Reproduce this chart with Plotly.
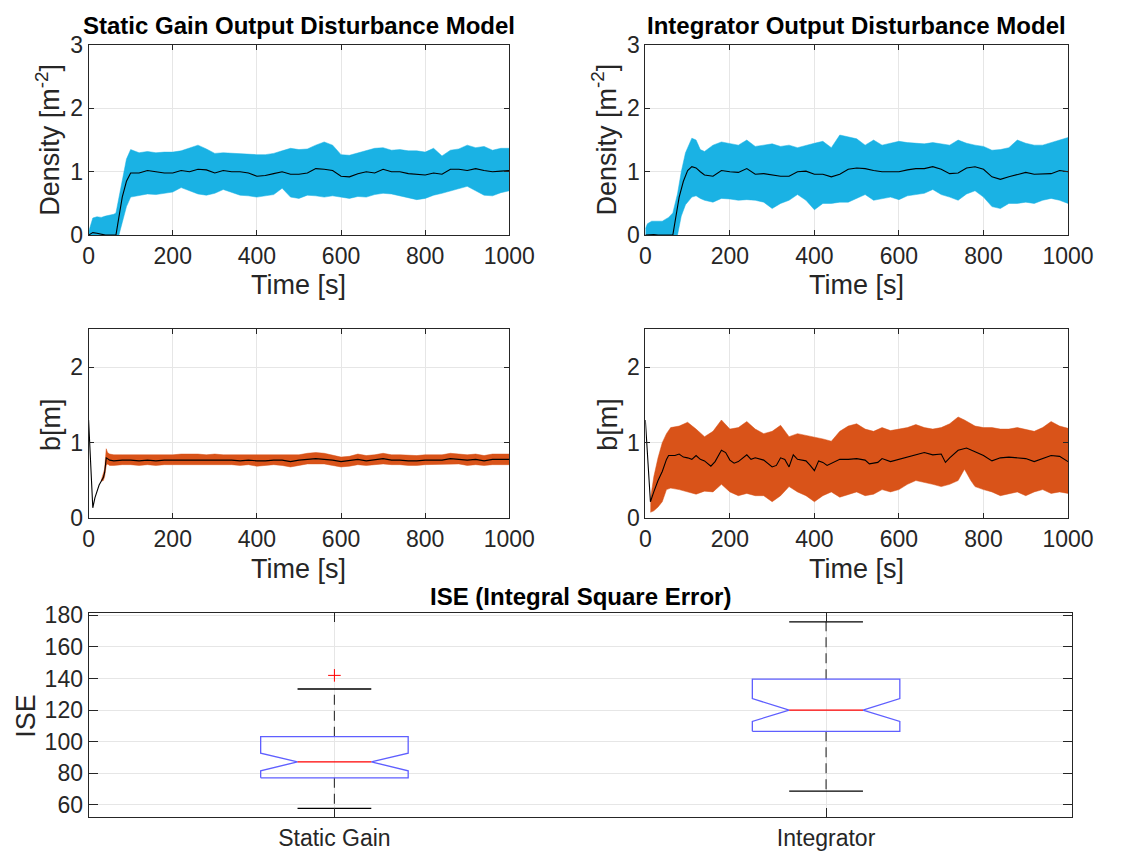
import plotly.graph_objects as go

# ---------------- density, static gain output disturbance model ----------------
sg_dens_band_t = [0, 5, 10, 20, 30, 40, 50, 60, 65, 72, 80, 90, 100,
                  120, 140, 160, 180, 200, 220, 240, 260, 280, 300, 320, 340, 360, 380, 400,
                  420, 440, 460, 480, 500, 520, 540, 560, 580, 600, 620, 640, 660, 680, 700,
                  720, 740, 760, 780, 800, 820, 840, 860, 880, 900, 920, 940, 960, 980, 1000]
sg_dens_hi = [0.05, 0.15, 0.27, 0.29, 0.28, 0.30, 0.31, 0.33, 0.35, 0.60, 0.90, 1.20, 1.35,
              1.30, 1.32, 1.30, 1.31, 1.31, 1.33, 1.37, 1.42, 1.36, 1.29, 1.30, 1.29, 1.28, 1.28, 1.27,
              1.27, 1.29, 1.33, 1.37, 1.35, 1.36, 1.42, 1.47, 1.42, 1.27, 1.26, 1.30, 1.33, 1.37, 1.38,
              1.34, 1.35, 1.33, 1.33, 1.31, 1.37, 1.25, 1.34, 1.36, 1.42, 1.38, 1.40, 1.34, 1.37, 1.37]
sg_dens_lo = [0.0, 0.0, 0.0, 0.0, 0.0, 0.0, 0.0, 0.0, 0.0, 0.0, 0.20, 0.45, 0.60,
              0.62, 0.65, 0.64, 0.66, 0.68, 0.75, 0.70, 0.65, 0.63, 0.66, 0.72, 0.68, 0.63, 0.62, 0.60,
              0.62, 0.64, 0.74, 0.60, 0.58, 0.63, 0.62, 0.60, 0.62, 0.60, 0.58, 0.61, 0.60, 0.64, 0.66,
              0.65, 0.62, 0.60, 0.56, 0.58, 0.63, 0.66, 0.70, 0.74, 0.77, 0.70, 0.63, 0.62, 0.67, 0.70]
sg_dens_mean_t = [0, 10, 20, 30, 40, 50, 60, 65, 70, 80, 90, 100,
                  120, 140, 160, 180, 200, 220, 240, 260, 280, 300, 320, 340, 360, 380, 400,
                  420, 440, 460, 480, 500, 520, 540, 560, 580, 600, 620, 640, 660, 680, 700,
                  720, 740, 760, 780, 800, 820, 840, 860, 880, 900, 920, 940, 960, 980, 1000]
sg_dens_mean = [0.0, 0.04, 0.03, 0.01, 0.0, 0.0, 0.0, 0.0, 0.20, 0.60, 0.85, 0.98,
                0.98, 1.02, 1.00, 0.98, 0.98, 1.02, 1.00, 1.04, 1.03, 0.98, 1.02, 1.00, 1.00, 0.98, 0.93,
                0.94, 0.97, 1.00, 0.96, 0.96, 0.98, 1.05, 1.04, 1.02, 0.93, 0.92, 0.97, 1.00, 0.98, 1.04,
                1.00, 1.00, 0.97, 0.96, 0.95, 0.98, 0.96, 1.04, 1.04, 1.02, 1.05, 1.02, 1.00, 1.01, 1.02]

# ---------------- density, integrator output disturbance model ----------------
int_dens_band_t = [0, 5, 15, 40, 55, 65, 76, 85, 95, 110, 120, 130,
                   140, 160, 180, 200, 220, 240, 260, 280, 300, 320, 340, 360, 380, 400,
                   420, 440, 460, 480, 500, 520, 540, 560, 580, 600, 620, 640, 660, 680, 700,
                   720, 740, 760, 780, 800, 820, 840, 860, 880, 900, 920, 940, 960, 980, 1000]
int_dens_hi = [0.10, 0.18, 0.22, 0.22, 0.28, 0.35, 0.65, 1.00, 1.30, 1.53, 1.50, 1.35,
               1.32, 1.42, 1.47, 1.45, 1.42, 1.50, 1.40, 1.42, 1.44, 1.40, 1.42, 1.38, 1.42, 1.45,
               1.48, 1.38, 1.58, 1.55, 1.52, 1.42, 1.50, 1.42, 1.45, 1.48, 1.46, 1.45, 1.44, 1.46, 1.44,
               1.42, 1.50, 1.45, 1.42, 1.40, 1.34, 1.35, 1.38, 1.50, 1.45, 1.42, 1.42, 1.46, 1.50, 1.54]
int_dens_lo = [0.0, 0.0, 0.0, 0.0, 0.0, 0.0, 0.0, 0.30, 0.48, 0.60, 0.62, 0.58,
               0.55, 0.52, 0.58, 0.57, 0.55, 0.56, 0.55, 0.52, 0.42, 0.50, 0.55, 0.64, 0.55, 0.40,
               0.50, 0.50, 0.52, 0.52, 0.58, 0.64, 0.55, 0.58, 0.60, 0.56, 0.62, 0.64, 0.66, 0.72, 0.64,
               0.60, 0.55, 0.65, 0.70, 0.60, 0.45, 0.42, 0.50, 0.50, 0.52, 0.50, 0.55, 0.58, 0.55, 0.50]
int_dens_mean_t = [0, 20, 30, 60, 65, 70, 80, 90, 100, 110, 120, 130,
                   140, 160, 180, 200, 220, 240, 260, 280, 300, 320, 340, 360, 380, 400,
                   420, 440, 460, 480, 500, 520, 540, 560, 580, 600, 620, 640, 660, 680, 700,
                   720, 740, 760, 780, 800, 820, 840, 860, 880, 900, 920, 940, 960, 980, 1000]
int_dens_mean = [0.0, 0.01, 0.0, 0.0, 0.0, 0.20, 0.60, 0.85, 1.02, 1.08, 1.06, 1.00,
                 0.95, 0.93, 1.02, 1.00, 0.99, 1.05, 0.96, 0.97, 0.95, 0.93, 0.93, 1.00, 1.01, 0.96,
                 0.96, 0.92, 0.96, 1.04, 1.06, 1.05, 1.02, 1.00, 1.00, 1.00, 1.03, 1.05, 1.05, 1.08, 1.04,
                 0.97, 0.98, 1.06, 1.08, 1.04, 0.92, 0.88, 0.92, 0.96, 0.99, 0.96, 0.97, 0.97, 1.02, 1.00]

# ---------------- b, static gain ----------------
sg_b_mean_t = [0, 10, 15, 20, 25, 30, 35, 38, 42, 45, 50, 60, 80,
               100, 120, 140, 160, 180, 200, 220, 240, 260, 280, 300, 320, 340, 360, 380, 400,
               420, 440, 460, 480, 500, 520, 540, 560, 580, 600, 620, 640, 660, 680, 700,
               720, 740, 760, 780, 800, 820, 840, 860, 880, 900, 920, 940, 960, 980, 1000]
sg_b_mean = [1.30, 0.14, 0.27, 0.37, 0.44, 0.49, 0.54, 0.60, 0.80, 0.79, 0.77, 0.76, 0.77,
             0.77, 0.76, 0.77, 0.76, 0.77, 0.77, 0.78, 0.77, 0.78, 0.77, 0.78, 0.77, 0.77, 0.76, 0.77, 0.76,
             0.76, 0.77, 0.77, 0.75, 0.77, 0.78, 0.79, 0.78, 0.77, 0.75, 0.76, 0.78, 0.76, 0.77, 0.79,
             0.77, 0.77, 0.76, 0.76, 0.77, 0.77, 0.77, 0.79, 0.78, 0.77, 0.78, 0.76, 0.78, 0.78, 0.78]
sg_b_band_t = [30, 35, 38, 42, 45, 50, 60, 80,
               100, 120, 140, 160, 180, 200, 220, 240, 260, 280, 300, 320, 340, 360, 380, 400,
               420, 440, 460, 480, 500, 520, 540, 560, 580, 600, 620, 640, 660, 680, 700,
               720, 740, 760, 780, 800, 820, 840, 860, 880, 900, 920, 940, 960, 980, 1000]
sg_b_hi = [0.50, 0.58, 0.65, 0.92, 0.87, 0.85, 0.84, 0.84,
           0.84, 0.83, 0.84, 0.83, 0.84, 0.84, 0.85, 0.85, 0.85, 0.84, 0.85, 0.84, 0.84, 0.84, 0.84, 0.83,
           0.83, 0.84, 0.84, 0.83, 0.84, 0.86, 0.87, 0.86, 0.84, 0.81, 0.82, 0.85, 0.83, 0.84, 0.86,
           0.84, 0.84, 0.83, 0.83, 0.84, 0.84, 0.84, 0.86, 0.85, 0.84, 0.85, 0.83, 0.85, 0.85, 0.85]
sg_b_lo = [0.49, 0.50, 0.55, 0.70, 0.72, 0.70, 0.70, 0.71,
           0.71, 0.70, 0.71, 0.70, 0.71, 0.71, 0.72, 0.71, 0.72, 0.71, 0.71, 0.71, 0.71, 0.70, 0.71, 0.69,
           0.70, 0.71, 0.70, 0.68, 0.70, 0.72, 0.72, 0.72, 0.70, 0.68, 0.69, 0.71, 0.70, 0.71, 0.72,
           0.71, 0.71, 0.70, 0.70, 0.71, 0.71, 0.71, 0.72, 0.72, 0.70, 0.71, 0.70, 0.71, 0.71, 0.71]

# ---------------- b, integrator ----------------
int_b_mean_t = [0, 12, 20, 30, 40, 50, 55, 70, 80, 90, 100, 110, 120, 130, 140, 155, 165, 180, 190, 200,
                210, 220, 240, 250, 260, 280, 300, 310, 320, 330, 340, 350, 360, 380, 390, 400, 410, 420,
                430, 450, 460, 480, 500, 520, 530, 550, 560, 580, 600, 620, 640, 660, 680, 700, 710, 720,
                740, 760, 780, 800, 820, 840, 860, 880, 900, 920, 940, 960, 980, 1000]
int_b_mean = [1.30, 0.22, 0.35, 0.50, 0.62, 0.78, 0.83, 0.83, 0.85, 0.81, 0.80, 0.78, 0.83, 0.78, 0.76,
              0.69, 0.75, 0.90, 0.87, 0.77, 0.73, 0.75, 0.84, 0.78, 0.80, 0.77, 0.68, 0.70, 0.80, 0.78,
              0.68, 0.84, 0.78, 0.76, 0.70, 0.63, 0.76, 0.74, 0.70, 0.76, 0.78, 0.78, 0.79, 0.77, 0.72,
              0.74, 0.79, 0.75, 0.78, 0.81, 0.85, 0.87, 0.84, 0.85, 0.74, 0.80, 0.90, 0.93, 0.88, 0.83,
              0.76, 0.80, 0.81, 0.80, 0.79, 0.75, 0.79, 0.83, 0.82, 0.75]
int_b_band_t = [12, 20, 30, 40, 50, 60, 80, 100, 120, 140, 160, 180, 200, 220, 240, 260, 280, 300,
                320, 340, 360, 380, 400, 420, 440, 460, 480, 500, 520, 540, 560, 580, 600, 620, 640,
                660, 680, 700, 720, 740, 755, 770, 780, 800, 820, 840, 860, 880, 900, 920, 940, 960,
                980, 1000]
int_b_hi = [0.25, 0.55, 0.80, 1.00, 1.12, 1.20, 1.22, 1.27, 1.18, 1.08, 1.15, 1.30, 1.18, 1.20, 1.28,
            1.18, 1.12, 1.15, 1.23, 1.08, 1.12, 1.10, 1.08, 1.05, 1.02, 1.15, 1.22, 1.25, 1.18, 1.15,
            1.20, 1.16, 1.18, 1.20, 1.24, 1.20, 1.18, 1.20, 1.25, 1.34, 1.30, 1.25, 1.22, 1.20, 1.20,
            1.18, 1.18, 1.20, 1.18, 1.15, 1.20, 1.28, 1.22, 1.19]
int_b_lo = [0.08, 0.10, 0.15, 0.22, 0.38, 0.40, 0.38, 0.35, 0.32, 0.36, 0.35, 0.45, 0.35, 0.30, 0.33,
            0.30, 0.30, 0.22, 0.30, 0.42, 0.35, 0.30, 0.22, 0.30, 0.35, 0.28, 0.32, 0.35, 0.30, 0.32,
            0.38, 0.35, 0.38, 0.45, 0.50, 0.48, 0.45, 0.42, 0.45, 0.50, 0.65, 0.50, 0.42, 0.38, 0.35,
            0.30, 0.32, 0.35, 0.30, 0.35, 0.38, 0.33, 0.35, 0.33]

# ---------------- ISE box statistics ----------------
ise_labels = ["Static Gain", "Integrator"]
ise_lower_whisker = [57.8, 68.8]
ise_q1 = [77.2, 106.6]
ise_median = [87.3, 120.0]
ise_q3 = [103.2, 139.6]
ise_upper_whisker = [133.4, 175.9]
ise_notch_lo = [81.6, 112.9]
ise_notch_hi = [92.8, 127.3]
ise_outliers = [[142.0], []]

# ---------------- styling ----------------
W, H = 1129, 867
FONT = "Liberation Sans, Arial, Helvetica, sans-serif"
AX = "#262626"
GRID = "#e6e6e6"
BLUE = "rgb(26,178,228)"
ORANGE = "rgb(217,83,25)"
TICK_SIZE = 23
LABEL_SIZE = 27
TITLE_SIZE = 24


def px(x):
    return x / W


def py(y):
    return 1 - y / H


fig = go.Figure()


def band(t, lo, hi, color, xa, ya):
    fig.add_trace(go.Scatter(x=t, y=lo, mode="lines", line=dict(width=0.5, color=color),
                             xaxis=xa, yaxis=ya, hoverinfo="skip", showlegend=False))
    fig.add_trace(go.Scatter(x=t, y=hi, mode="lines", line=dict(width=0.5, color=color),
                             fill="tonexty", fillcolor=color,
                             xaxis=xa, yaxis=ya, hoverinfo="skip", showlegend=False))


def mean_line(t, v, xa, ya):
    fig.add_trace(go.Scatter(x=t, y=v, mode="lines", line=dict(width=1.1, color="black"),
                             xaxis=xa, yaxis=ya, hoverinfo="skip", showlegend=False))


band(sg_dens_band_t, sg_dens_lo, sg_dens_hi, BLUE, "x", "y")
mean_line(sg_dens_mean_t, sg_dens_mean, "x", "y")
band(int_dens_band_t, int_dens_lo, int_dens_hi, BLUE, "x2", "y2")
mean_line(int_dens_mean_t, int_dens_mean, "x2", "y2")
band(sg_b_band_t, sg_b_lo, sg_b_hi, ORANGE, "x3", "y3")
mean_line(sg_b_mean_t, sg_b_mean, "x3", "y3")
band(int_b_band_t, int_b_lo, int_b_hi, ORANGE, "x4", "y4")
mean_line(int_b_mean_t, int_b_mean, "x4", "y4")

# notched box plots
half_w = 0.15
for i in range(len(ise_labels)):
    c = i + 1
    xs = [c - half_w, c - half_w, c - half_w / 2, c - half_w, c - half_w,
          c + half_w, c + half_w, c + half_w / 2, c + half_w, c + half_w, c - half_w]
    ys = [ise_q1[i], ise_notch_lo[i], ise_median[i], ise_notch_hi[i], ise_q3[i],
          ise_q3[i], ise_notch_hi[i], ise_median[i], ise_notch_lo[i], ise_q1[i], ise_q1[i]]
    fig.add_trace(go.Scatter(x=[c, c, None, c, c],
                             y=[ise_q3[i], ise_upper_whisker[i], None, ise_q1[i], ise_lower_whisker[i]],
                             mode="lines", line=dict(color="#3a3a3a", width=1.2, dash="10px,6px"),
                             xaxis="x5", yaxis="y5", hoverinfo="skip", showlegend=False))
    fig.add_trace(go.Scatter(x=[c - half_w / 2, c + half_w / 2, None, c - half_w / 2, c + half_w / 2],
                             y=[ise_upper_whisker[i], ise_upper_whisker[i], None,
                                ise_lower_whisker[i], ise_lower_whisker[i]],
                             mode="lines", line=dict(color="black", width=1.3),
                             xaxis="x5", yaxis="y5", hoverinfo="skip", showlegend=False))
    fig.add_trace(go.Scatter(x=xs, y=ys, mode="lines", line=dict(color="rgb(95,95,255)", width=1.3),
                             xaxis="x5", yaxis="y5", hoverinfo="skip", showlegend=False))
    fig.add_trace(go.Scatter(x=[c - half_w / 2, c + half_w / 2], y=[ise_median[i], ise_median[i]],
                             mode="lines", line=dict(color="red", width=1.4),
                             xaxis="x5", yaxis="y5", hoverinfo="skip", showlegend=False))
    if ise_outliers[i]:
        fig.add_trace(go.Scatter(x=[c] * len(ise_outliers[i]), y=ise_outliers[i], mode="markers",
                                 marker=dict(symbol="cross-thin", size=9,
                                             line=dict(color="red", width=1)),
                                 xaxis="x5", yaxis="y5", hoverinfo="skip", showlegend=False))


def axis_style(**kw):
    d = dict(showline=True, linecolor=AX, linewidth=1, mirror="ticks", ticks="inside",
             tickcolor=AX, ticklen=5, tickwidth=1, showgrid=True, gridcolor=GRID, gridwidth=1,
             zeroline=False, tickfont=dict(family=FONT, size=TICK_SIZE, color=AX), fixedrange=True)
    d.update(kw)
    return d


xl = [px(85), px(518)]
xr = [px(658), px(1093)]
y_top = [py(229), py(33)]
y_mid = [py(521), py(326)]

time_ticks = [0, 200, 400, 600, 800, 1000]
fig.update_layout(
    width=W, height=H, margin=dict(l=0, r=0, t=0, b=0),
    paper_bgcolor="white", plot_bgcolor="white", showlegend=False,
    xaxis=axis_style(domain=xl, range=[0, 1000], tickvals=time_ticks, anchor="y"),
    yaxis=axis_style(domain=y_top, range=[0, 3], tickvals=[0, 1, 2, 3], anchor="x"),
    xaxis2=axis_style(domain=xr, range=[0, 1000], tickvals=time_ticks, anchor="y2"),
    yaxis2=axis_style(domain=y_top, range=[0, 3], tickvals=[0, 1, 2, 3], anchor="x2"),
    xaxis3=axis_style(domain=xl, range=[0, 1000], tickvals=time_ticks, anchor="y3"),
    yaxis3=axis_style(domain=y_mid, range=[0, 2.5], tickvals=[0, 1, 2], anchor="x3"),
    xaxis4=axis_style(domain=xr, range=[0, 1000], tickvals=time_ticks, anchor="y4"),
    yaxis4=axis_style(domain=y_mid, range=[0, 2.5], tickvals=[0, 1, 2], anchor="x4"),
    xaxis5=axis_style(domain=[px(85), px(1097)], range=[0.5, 2.5], tickvals=[1, 2],
                      ticktext=ise_labels, ticklen=9, anchor="y5"),
    yaxis5=axis_style(domain=[py(829), py(619)], range=[52.3, 181.2],
                      tickvals=[60, 80, 100, 120, 140, 160, 180], ticklen=9, anchor="x5"),
)

ann = []


def label(text, x, y, size, angle=0, bold=False, color=AX):
    ann.append(dict(text=f"<b>{text}</b>" if bold else text, x=px(x), y=py(y),
                    xref="paper", yref="paper", showarrow=False, textangle=angle,
                    xanchor="center", yanchor="middle",
                    font=dict(family=FONT, size=size, color=color)))


label("Static Gain Output Disturbance Model", 301.5, 13, TITLE_SIZE, bold=True, color="black")
label("Integrator Output Disturbance Model", 875.5, 13, TITLE_SIZE, bold=True, color="black")
label("Density [m<sup>-2</sup>]", 43, 131, LABEL_SIZE, angle=-90)
label("Density [m<sup>-2</sup>]", 616, 131, LABEL_SIZE, angle=-90)
label("Time [s]", 301.5, 280, LABEL_SIZE)
label("Time [s]", 875.5, 280, LABEL_SIZE)
label("b[m]", 47, 424, LABEL_SIZE, angle=-90)
label("b[m]", 620, 424, LABEL_SIZE, angle=-90)
label("Time [s]", 301.5, 573, LABEL_SIZE)
label("Time [s]", 875.5, 573, LABEL_SIZE)
label("ISE (Integral Square Error)", 591, 602, TITLE_SIZE, bold=True, color="black")
label("ISE", 21, 724, LABEL_SIZE, angle=-90)

fig.update_layout(annotations=ann)
fig.write_html("out.html")
